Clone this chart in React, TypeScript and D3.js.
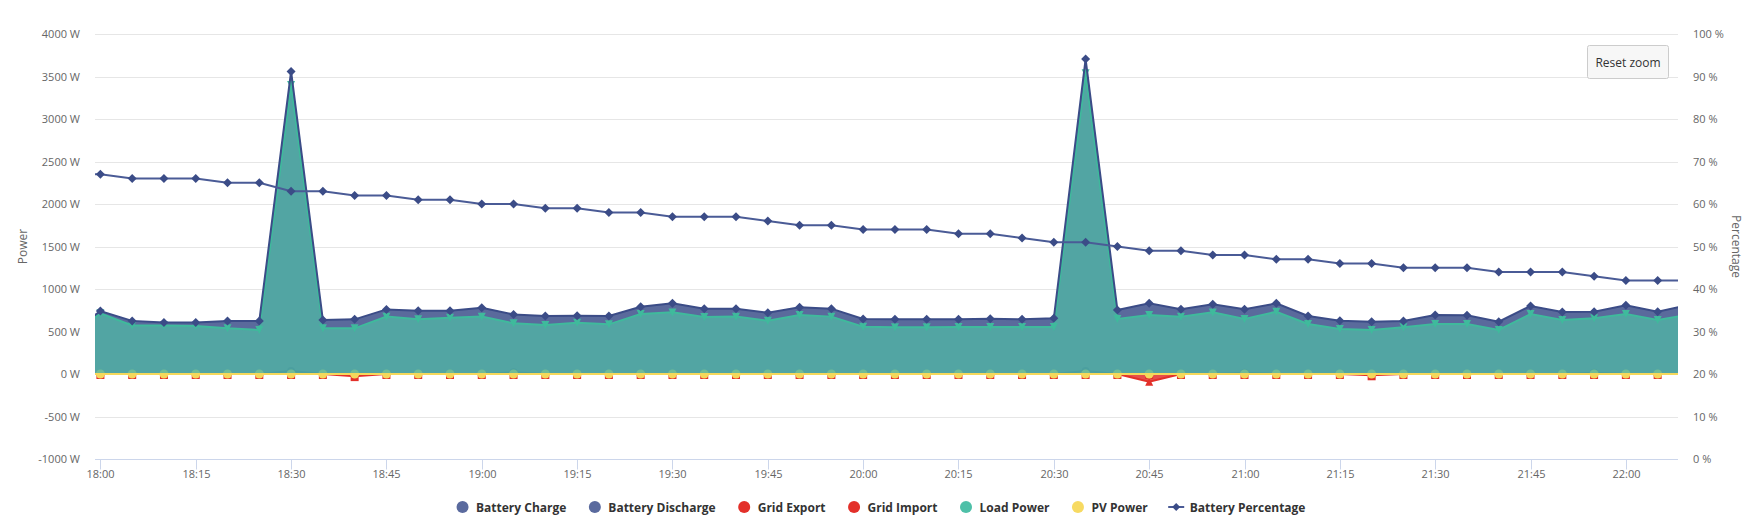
import React, { useEffect, useRef } from "react";
import * as d3 from "d3";

const W = 1751;
const H = 519;

// Time stamps (the view is zoomed: first and last point lie just outside the plot)
const times: string[] = [
  "17:55", "18:00", "18:05", "18:10", "18:15", "18:20", "18:25", "18:30", "18:35", "18:40",
  "18:45", "18:50", "18:55", "19:00", "19:05", "19:10", "19:15", "19:20", "19:25", "19:30",
  "19:35", "19:40", "19:45", "19:50", "19:55", "20:00", "20:05", "20:10", "20:15", "20:20",
  "20:25", "20:30", "20:35", "20:40", "20:45", "20:50", "20:55", "21:00", "21:05", "21:10",
  "21:15", "21:20", "21:25", "21:30", "21:35", "21:40", "21:45", "21:50", "21:55", "22:00",
  "22:05", "22:10",
];

const batteryCharge: number[] = [
  0, 0, 0, 0, 0, 0, 0, 35, 0, 0,
  0, 0, 0, 0, 20, 0, 0, 0, 0, 0,
  0, 0, 0, 0, 0, 0, 0, 0, 0, 0,
  0, 0, 35, 0, 0, 0, 0, 15, 0, 0,
  0, 0, 0, 0, 0, 0, 0, 0, 15, 0,
  0, 0,
];

const batteryDischarge: number[] = [
  470, 740, 625, 605, 605, 624, 624, 3560, 635, 643,
  760, 745, 745, 780, 700, 682, 686, 682, 792, 831,
  769, 769, 722, 784, 769, 647, 643, 643, 643, 651,
  643, 655, 3705, 753, 831, 761, 820, 761, 831, 682,
  627, 616, 624, 694, 690, 616, 800, 729, 733, 808,
  733, 815,
];

const gridExport: number[] = [
  0, 0, 0, 0, 0, 0, 0, 0, 0, -25,
  0, 0, 0, 0, 0, 0, 0, 0, 0, 0,
  0, 0, 0, 0, 0, 0, 0, 0, 0, 0,
  0, 0, 0, 0, 0, 0, 0, 0, 0, 0,
  0, -15, 0, 0, 0, 0, 0, 0, 0, 0,
  0, 0,
];

const gridImport: number[] = [
  0, 0, 0, 0, 0, 0, 0, 0, 0, 0,
  0, 0, 0, 0, 0, 0, 0, 0, 0, 0,
  0, 0, 0, 0, 0, 0, 0, 0, 0, 0,
  0, 0, 0, 0, -90, 0, 0, 0, 0, 0,
  0, 0, 0, 0, 0, 0, 0, 0, 0, 0,
  0, 0,
];

const loadPower: number[] = [
  440, 714, 572, 572, 565, 537, 518, 3400, 537, 537,
  675, 643, 663, 675, 596, 576, 604, 584, 706, 725,
  671, 675, 627, 694, 675, 557, 549, 549, 553, 553,
  553, 553, 3537, 647, 694, 675, 725, 647, 733, 588,
  529, 518, 549, 588, 588, 518, 706, 635, 655, 706,
  635, 699,
];

const pvPower: number[] = [
  0, 0, 0, 0, 0, 0, 0, 0, 0, 0,
  0, 0, 0, 0, 0, 0, 0, 0, 0, 0,
  0, 0, 0, 0, 0, 0, 0, 0, 0, 0,
  0, 0, 0, 0, 0, 0, 0, 0, 0, 0,
  0, 0, 0, 0, 0, 0, 0, 0, 0, 0,
  0, 0,
];

const batteryPercentage: number[] = [
  67, 67, 66, 66, 66, 65, 65, 63, 63, 62,
  62, 61, 61, 60, 60, 59, 59, 58, 58, 57,
  57, 57, 56, 55, 55, 54, 54, 54, 53, 53,
  52, 51, 51, 50, 49, 49, 48, 48, 47, 47,
  46, 46, 45, 45, 45, 44, 44, 44, 43, 42,
  42, 42,
];

const xTickLabels: string[] = [
  "18:00", "18:15", "18:30", "18:45", "19:00", "19:15", "19:30", "19:45", "20:00",
  "20:15", "20:30", "20:45", "21:00", "21:15", "21:30", "21:45", "22:00",
];
const powerTicks: number[] = [-1000, -500, 0, 500, 1000, 1500, 2000, 2500, 3000, 3500, 4000];
const percentTicks: number[] = [0, 10, 20, 30, 40, 50, 60, 70, 80, 90, 100];

const legendNames: string[] = [
  "Battery Charge", "Battery Discharge", "Grid Export", "Grid Import",
  "Load Power", "PV Power", "Battery Percentage",
];

export default function App() {
  const ref = useRef<SVGSVGElement>(null);

  useEffect(() => {
    const svg = d3.select(ref.current);
    svg.selectAll("*").remove();
    const font = "'Open Sans', sans-serif";
    const plot = { l: 95, r: 1678, t: 34, b: 459 };

    const toMin = (s: string) => {
      const [h, m] = s.split(":").map(Number);
      return (h - 18) * 60 + m;
    };
    const x = d3.scaleLinear().domain([-0.85, 248.2]).range([plot.l, plot.r]);
    const y = d3.scaleLinear().domain([-1000, 4000]).range([plot.b, plot.t]);
    const yR = d3.scaleLinear().domain([0, 100]).range([plot.b, plot.t]);

    svg.append("rect").attr("width", W).attr("height", H).attr("fill", "#ffffff");

    const defs = svg.append("defs");
    defs.append("clipPath").attr("id", "plotclip")
      .append("rect").attr("x", plot.l).attr("y", plot.t - 10)
      .attr("width", plot.r - plot.l).attr("height", plot.b - plot.t + 20);

    // grid
    const grid = svg.append("g");
    powerTicks.forEach((v) => {
      if (v === -1000) return;
      grid.append("line")
        .attr("x1", plot.l).attr("x2", plot.r)
        .attr("y1", Math.round(y(v)) + 0.5).attr("y2", Math.round(y(v)) + 0.5)
        .attr("stroke", "#e6e6e6").attr("stroke-width", 1);
    });

    // x axis
    const xb = Math.round(plot.b) + 0.5;
    svg.append("line").attr("x1", plot.l).attr("x2", plot.r)
      .attr("y1", xb).attr("y2", xb).attr("stroke", "#ccd6eb").attr("stroke-width", 1);
    xTickLabels.forEach((lab) => {
      const xx = Math.round(x(toMin(lab))) + 0.5;
      svg.append("line").attr("x1", xx).attr("x2", xx).attr("y1", xb).attr("y2", xb + 10)
        .attr("stroke", "#ccd6eb").attr("stroke-width", 1);
      svg.append("text").attr("x", xx).attr("y", 478).attr("text-anchor", "middle")
        .attr("font-family", font).attr("font-size", 11).attr("fill", "#666666").text(lab);
    });

    // y axes labels
    powerTicks.forEach((v) => {
      svg.append("text").attr("x", 80).attr("y", y(v) + 4).attr("text-anchor", "end")
        .attr("font-family", font).attr("font-size", 11).attr("fill", "#666666").text(`${v} W`);
    });
    percentTicks.forEach((v) => {
      svg.append("text").attr("x", 1693).attr("y", yR(v) + 4).attr("text-anchor", "start")
        .attr("font-family", font).attr("font-size", 11).attr("fill", "#666666").text(`${v} %`);
    });

    // axis titles
    const cy = (plot.t + plot.b) / 2;
    svg.append("text").attr("transform", `translate(22,${cy}) rotate(-90)`)
      .attr("text-anchor", "middle").attr("dominant-baseline", "central")
      .attr("font-family", font).attr("font-size", 12).attr("fill", "#666666").text("Power");
    svg.append("text").attr("transform", `translate(1736,${cy}) rotate(90)`)
      .attr("text-anchor", "middle").attr("dominant-baseline", "central")
      .attr("font-family", font).attr("font-size", 12).attr("fill", "#666666").text("Percentage");

    // series
    const g = svg.append("g").attr("clip-path", "url(#plotclip)");
    const xs = times.map(toMin);
    const pts = (vals: number[], sc: d3.ScaleLinear<number, number>) =>
      vals.map((v, i) => [x(xs[i]), sc(v)] as [number, number]);

    const areaGen = d3.area<[number, number]>().x((d) => d[0]).y0(y(0)).y1((d) => d[1]);
    const lineGen = d3.line<[number, number]>().x((d) => d[0]).y((d) => d[1]);

    const diamond = (cx: number, cy2: number, r = 4.5) =>
      `M${cx},${cy2 - r}L${cx + r},${cy2}L${cx},${cy2 + r}L${cx - r},${cy2}Z`;
    const triDown = (cx: number, cy2: number, r = 4) =>
      `M${cx - r},${cy2 - r}L${cx + r},${cy2 - r}L${cx},${cy2 + r}Z`;
    const triUp = (cx: number, cy2: number, r = 4) =>
      `M${cx},${cy2 - r}L${cx + r},${cy2 + r}L${cx - r},${cy2 + r}Z`;
    const square = (cx: number, cy2: number, r = 4) =>
      `M${cx - r},${cy2 - r}h${2 * r}v${2 * r}h${-2 * r}Z`;

    const blueFill = "#5a6a9c";
    const blueLine = "#3b4c87";
    const red = "#e3302a";
    const tealLine = "#3fba9c";
    const yellow = "#f5d85b";

    const dis = pts(batteryDischarge, y);
    const chg = pts(batteryCharge, y);
    const gex = pts(gridExport, y);
    const gim = pts(gridImport, y);
    const load = pts(loadPower, y);
    const pv = pts(pvPower, y);
    const pct = pts(batteryPercentage, yR);

    // battery discharge area
    g.append("path").attr("d", areaGen(dis)!).attr("fill", blueFill);
    // battery charge
    g.append("path").attr("d", areaGen(chg)!).attr("fill", blueFill);
    g.append("path").attr("d", lineGen(chg)!).attr("fill", "none").attr("stroke", blueLine).attr("stroke-width", 2);
    chg.forEach(([a, b]) => g.append("circle").attr("cx", a).attr("cy", b).attr("r", 4).attr("fill", blueLine));
    // grid export
    g.append("path").attr("d", areaGen(gex)!).attr("fill", red).attr("opacity", 0.85);
    g.append("path").attr("d", lineGen(gex)!).attr("fill", "none").attr("stroke", red).attr("stroke-width", 2);
    gex.forEach(([a, b]) => g.append("path").attr("d", square(a, b + 1)).attr("fill", red));
    // grid import
    g.append("path").attr("d", areaGen(gim)!).attr("fill", red).attr("opacity", 0.85);
    g.append("path").attr("d", lineGen(gim)!).attr("fill", "none").attr("stroke", red).attr("stroke-width", 2);
    gim.forEach(([a, b], i) => {
      if (gridImport[i] !== 0) g.append("path").attr("d", triUp(a, b)).attr("fill", red);
    });
    // PV markers (below the load fill)
    pv.forEach(([a, b]) => g.append("circle").attr("cx", a).attr("cy", b).attr("r", 4.5).attr("fill", yellow));
    // load area
    g.append("path").attr("d", areaGen(load)!).attr("fill", "#50b4a5").attr("fill-opacity", 0.8);
    // PV line on top
    g.append("path").attr("d", lineGen(pv)!).attr("fill", "none").attr("stroke", yellow).attr("stroke-width", 2);
    // load line & markers
    g.append("path").attr("d", lineGen(load)!).attr("fill", "none").attr("stroke", tealLine).attr("stroke-width", 2);
    load.forEach(([a, b]) => g.append("path").attr("d", triDown(a, b)).attr("fill", tealLine));
    // discharge line & markers
    g.append("path").attr("d", lineGen(dis)!).attr("fill", "none").attr("stroke", blueLine).attr("stroke-width", 2);
    dis.forEach(([a, b]) => g.append("path").attr("d", diamond(a, b)).attr("fill", blueLine));
    // battery percentage
    g.append("path").attr("d", lineGen(pct)!).attr("fill", "none").attr("stroke", "#4a5b96").attr("stroke-width", 2);
    pct.forEach(([a, b]) => g.append("path").attr("d", diamond(a, b)).attr("fill", "#3b4c87"));

    // reset zoom button
    const btn = svg.append("g");
    btn.append("rect").attr("x", 1587.5).attr("y", 45.5).attr("width", 81).attr("height", 33)
      .attr("rx", 2).attr("fill", "#f7f7f7").attr("stroke", "#cccccc").attr("stroke-width", 1);
    btn.append("text").attr("x", 1628).attr("y", 62).attr("text-anchor", "middle")
      .attr("dominant-baseline", "central").attr("font-family", font).attr("font-size", 12)
      .attr("fill", "#333333").text("Reset zoom");

    // legend
    const legendColors = ["#5a6a9e", "#5a6a9e", red, red, "#4ec0a8", "#f7da62", "#4a5b96"];
    const lg = svg.append("g");
    const ly = 507;
    const items = legendNames.map((name, i) => {
      const item = lg.append("g");
      const t = item.append("text").attr("x", 13.5).attr("y", ly).attr("dominant-baseline", "central")
        .attr("font-family", font).attr("font-size", 12).attr("font-weight", "bold")
        .attr("fill", "#333333").text(name);
      if (i === legendNames.length - 1) {
        item.append("line").attr("x1", -8).attr("x2", 8).attr("y1", ly).attr("y2", ly)
          .attr("stroke", legendColors[i]).attr("stroke-width", 2);
        item.append("path").attr("d", diamond(0, ly, 4)).attr("fill", "#3b4c87");
      } else {
        item.append("circle").attr("cx", 0).attr("cy", ly).attr("r", 6).attr("fill", legendColors[i]);
      }
      const w = (t.node() as SVGTextElement).getComputedTextLength();
      return { item, w };
    });
    let cx = 0;
    const pos: number[] = [];
    items.forEach((it) => {
      pos.push(cx);
      cx += 13.5 + it.w + 28.5;
    });
    const totalEnd = cx - 28.5;
    const total = totalEnd + 6;
    const start = 881 - total / 2 + 6;
    items.forEach((it, i) => it.item.attr("transform", `translate(${start + pos[i]},0)`));
  }, []);

  return (
    <svg
      ref={ref}
      width={W}
      height={H}
      style={{ position: "absolute", left: 0, top: 0, display: "block" }}
    />
  );
}
